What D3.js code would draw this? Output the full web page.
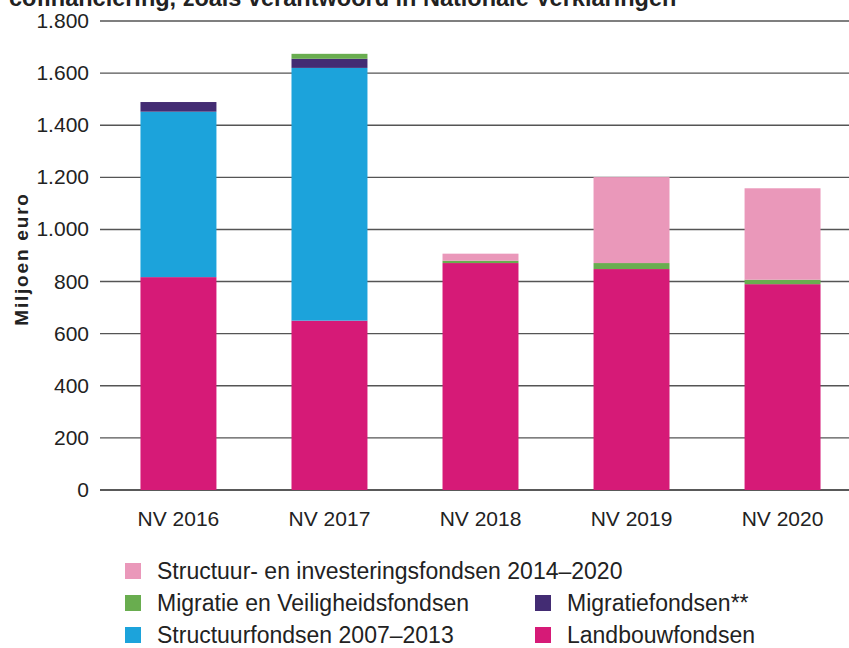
<!DOCTYPE html>
<html><head><meta charset="utf-8">
<script src="https://cdn.jsdelivr.net/npm/d3@7"></script>
<style>body{margin:0;background:#fff}svg{display:block}text{font-family:"Liberation Sans",Arial,sans-serif}</style>
</head><body>
<svg id="c" width="849" height="648"></svg>
<script>
const categories = ["NV 2016","NV 2017","NV 2018","NV 2019","NV 2020"];
const landbouwfondsen = [817, 650, 871, 848, 790];
const structuurfondsen0713 = [635, 970, 0, 0, 0];
const migratiefondsen = [37, 35, 0, 0, 0];
const migratieVeiligheid = [0, 19, 9, 23, 17];
const structuurInvestering1420 = [0, 0, 27, 330, 351];
const yTicks = [0,200,400,600,800,1000,1200,1400,1600,1800];
const seriesNames = ["Landbouwfondsen","Structuurfondsen 2007–2013","Migratiefondsen**","Migratie en Veiligheidsfondsen","Structuur- en investeringsfondsen 2014–2020"];
const colors = ["#d61a77","#1ca3db","#432c73","#69ad4f","#ea98ba"];
const titleText = "cofinanciering, zoals verantwoord in Nationale Verklaringen";
const yTitle = "Miljoen euro";

const svg = d3.select("#c");
const seriesVals = [landbouwfondsen, structuurfondsen0713, migratiefondsen, migratieVeiligheid, structuurInvestering1420];
const rows = categories.map((c,i)=>{const o={cat:c}; seriesNames.forEach((s,j)=>o[s]=seriesVals[j][i]); return o;});
const stack = d3.stack().keys(seriesNames)(rows);

const y = d3.scaleLinear().domain([0,1800]).range([490,21]);
const x = d3.scaleBand().domain(categories).range([100,861]).paddingInner(0.497).paddingOuter(0.268);

// title (cut off at top, as in the reference)
svg.append("text").attr("x",9).attr("y",6).attr("font-weight","bold").attr("font-size",23.5).attr("fill","#222").text(titleText);

// gridlines
svg.append("g").selectAll("line").data(yTicks).join("line")
  .attr("x1",100).attr("x2",849).attr("y1",d=>y(d)).attr("y2",d=>y(d))
  .attr("stroke",d=>d===0?"#222":"#555").attr("stroke-width",1.4);

// y tick labels
svg.append("g").selectAll("text").data(yTicks).join("text")
  .attr("x",89).attr("y",d=>y(d)+7).attr("text-anchor","end").attr("font-size",21).attr("fill","#222")
  .text(d=>d3.format(",")(d).replace(/,/g,"."));

// y title
svg.append("text").attr("transform","translate(28,259) rotate(-90)").attr("text-anchor","middle")
  .attr("font-weight","bold").attr("font-size",19).attr("letter-spacing",1.8).attr("fill","#222").text(yTitle);

// bars
svg.append("g").selectAll("g").data(stack).join("g").attr("fill",(d,i)=>colors[i])
  .selectAll("rect").data(d=>d.filter(p=>p[1]-p[0]>0)).join("rect")
  .attr("x",d=>x(d.data.cat)).attr("width",x.bandwidth())
  .attr("y",d=>y(d[1])).attr("height",d=>y(d[0])-y(d[1]));

// x labels
svg.append("g").selectAll("text").data(categories).join("text")
  .attr("x",d=>x(d)+x.bandwidth()/2).attr("y",526).attr("text-anchor","middle").attr("font-size",21).attr("fill","#222").text(d=>d);

// legend
const legend = [
  {name:seriesNames[4], col:0, row:0, c:colors[4]},
  {name:seriesNames[3], col:0, row:1, c:colors[3]},
  {name:seriesNames[2], col:1, row:1, c:colors[2]},
  {name:seriesNames[1], col:0, row:2, c:colors[1]},
  {name:seriesNames[0], col:1, row:2, c:colors[0]}
];
const lg = svg.append("g").selectAll("g").data(legend).join("g")
  .attr("transform",d=>`translate(${d.col?535:125},${563+d.row*32})`);
lg.append("rect").attr("width",16).attr("height",16).attr("fill",d=>d.c);
lg.append("text").attr("x",32).attr("y",16).attr("font-size",23).attr("fill","#222").text(d=>d.name);
</script>
</body></html>
